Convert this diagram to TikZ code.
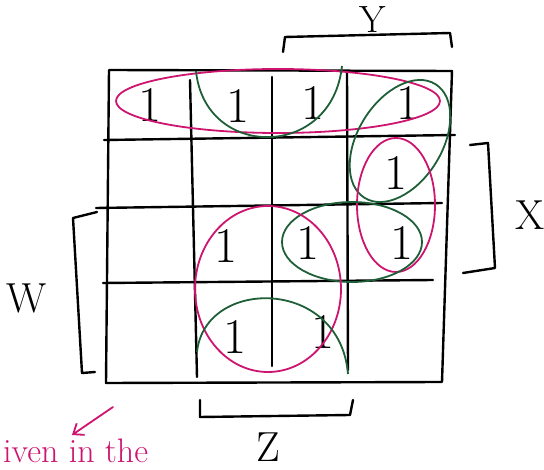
\documentclass[tikz,border=0pt]{standalone}
\usepackage{amsmath,amssymb}
\usepackage{tikz}
\usetikzlibrary{calc,positioning,arrows.meta}
\definecolor{kmpink}{RGB}{205,20,110}
\definecolor{kmgreen}{RGB}{30,95,55}

\begin{document}
\begin{tikzpicture}[x=1pt,y=-1pt,
   kmline/.style={line width=2.4pt,line cap=round,line join=round},
   one/.style={font=\fontsize{50}{50}\selectfont,inner sep=0pt},
   var/.style={font=\fontsize{42}{42}\selectfont,inner sep=0pt},
   pinkloop/.style={draw=kmpink,line width=1.8pt},
   greenloop/.style={draw=kmgreen,line width=1.8pt}]
   \useasboundingbox (0,0) rectangle (544,470);
   % map frame and cell lines
   \draw[kmline] (109,70) -- (452,71) -- (442,382) -- (106,383) -- cycle;
   \draw[kmline] (190,80) -- (197,377);
   \draw[kmline] (272,77) -- (272,366);
   \draw[kmline] (347,72) -- (348,370);
   \draw[kmline] (104,140) -- (455,135);
   \draw[kmline] (96,208) -- (442,203);
   \draw[kmline] (103,283) -- (433,280);
   % the ones
   \node[one] (a1) at (150,105) {1};
   \node[one] (a2) at (238,106) {1};
   \node[one] (a3) at (313,103) {1};
   \node[one] (a4) at (408,103) {1};
   \node[one] (b4) at (396,173) {1};
   \node[one] (c2) at (226,246) {1};
   \node[one] (c3) at (308,243) {1};
   \node[one] (c4) at (402,243) {1};
   \node[one] (d2) at (235,337) {1};
   \node[one] (d3) at (323,332) {1};
   % groups
   \draw[pinkloop] (278,101) ellipse [x radius=162, y radius=32];
   \draw[greenloop] (196,71) .. controls (205,160) and (332,160) .. (342,66);
   \draw[greenloop, rotate around={58:(400,141)}] (400,141) ellipse [x radius=67, y radius=42];
   \draw[pinkloop] (396,205) ellipse [x radius=39, y radius=67];
   \draw[greenloop] (352,242) ellipse [x radius=70, y radius=40];
   \draw[pinkloop] (268,289) ellipse [x radius=73, y radius=83];
   \draw[greenloop] (197,352) .. controls (205,277) and (340,277) .. (348,374);
   % variable brackets
   \draw[kmline] (283,52) -- (285,37) -- (450,33) -- (452,47);
   \draw[kmline] (470,145) -- (488,143) -- (495,268) -- (463,273);
   \draw[kmline] (97,212) -- (73,218) -- (82,373) -- (95,372);
   \draw[kmline] (200,400) -- (200,417) -- (350,415) -- (353,400);
   \node[var,font=\fontsize{38}{38}\selectfont] (vy) at (373,20) {Y};
   \node[var] (vx) at (530,215) {X};
   \node[var] (vw) at (27,298) {W};
   \node[var] (vz) at (268,447) {Z};
   % note
   \coordinate (ns) at (113,407);
   \coordinate (ne) at (72,435);
   \draw[kmpink,line width=1.8pt,line cap=round,-{Straight Barb[length=9pt,width=14pt]}] (ns) -- (ne);
   \node[anchor=base west,inner sep=0pt,text=kmpink,font=\fontsize{34}{34}\selectfont] (note) at (3,462) {iven in the};
\end{tikzpicture}
\end{document}
